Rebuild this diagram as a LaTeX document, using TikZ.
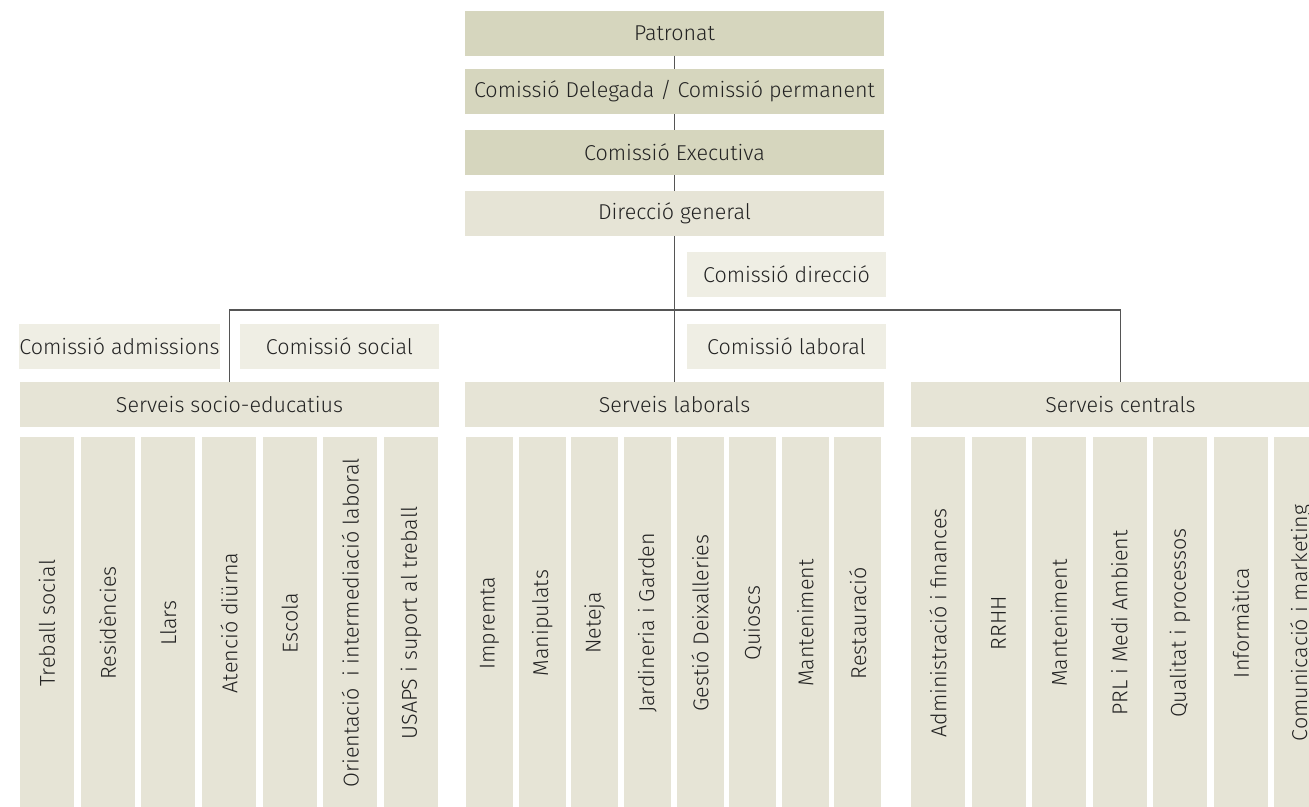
\documentclass[tikz,border=0pt]{standalone}
\usepackage{fontspec}
\IfFontExistsTF{Fira Sans Light}{\setmainfont{Fira Sans Light}}{\setmainfont{Fira Sans}}
\definecolor{boxdark}{RGB}{214,214,190}
\definecolor{boxmid}{RGB}{230,228,214}
\definecolor{boxlight}{RGB}{239,238,228}
\definecolor{linegray}{RGB}{85,85,85}
\definecolor{textgray}{RGB}{35,35,35}

\begin{document}
\begin{tikzpicture}[x=1pt,y=-1pt]
  \tikzstyle{every node}+=[inner sep=0pt, text=textgray, font=\fontsize{21.5}{24}\selectfont]
  \tikzstyle{headbox}=[fill=boxdark, minimum width=419, minimum height=45]
  \tikzstyle{unitbox}=[fill=boxmid, minimum width=419, minimum height=45]
  \tikzstyle{commbox}=[fill=boxlight, minimum width=199, minimum height=45]
  \tikzstyle{deptbox}=[fill=boxmid, rotate=90, minimum width=372, minimum height=54]
  \tikzstyle{link}=[draw=linegray, line width=1.3]
  \useasboundingbox (0,0) rectangle (1309,806);
  \clip (0,0) rectangle (1309,806);

  % governing bodies
  \node [headbox] (pat) at (674.5,33) {Patronat};
  \node [headbox] (del) at (674.5,91.5) {Comissió Delegada / Comissió permanent};
  \node [headbox] (exe) at (674.5,152.5) {Comissió Executiva};
  \node [unitbox] (dg) at (674.5,213.5) {Direcció general};

  % commissions
  \node [commbox] (cdir) at (786.5,274.5) {Comissió direcció};
  \node [commbox] (cadm) at (119.5,346.5) {Comissió admissions};
  \node [commbox] (csoc) at (339.5,346.5) {Comissió social};
  \node [commbox] (clab) at (786.5,346.5) {Comissió laboral};

  % services
  \node [unitbox] (sse) at (229.5,404.5) {Serveis socio-educatius};
  \node [unitbox] (slab) at (674.5,404.5) {Serveis laborals};
  \node [unitbox] (scen) at (1120.5,404.5) {Serveis centrals};

  % links
  \draw [link] (pat) -- (del);
  \draw [link] (del) -- (exe);
  \draw [link] (exe) -- (dg);
  \draw [link] (dg) -- (slab);
  \coordinate (bus) at (674.5,310);
  \draw [link] (sse) |- (bus) -| (scen);

  % departments
  \foreach \name [count=\i from 0] in {Treball social, Residències, Llars,
      Atenció diürna, Escola, Orientació\ \ i intermediació laboral,
      USAPS i suport al treball}
    \node [deptbox] (sse-\i) at (47+60.67*\i,623) {\name};
  \foreach \name [count=\i from 0] in {Impremta, Manipulats, Neteja,
      Jardineria i Garden, Gestió Deixalleries, Quioscs, Manteniment,
      Restauració}
    \node [deptbox, minimum height=47] (slab-\i) at (489.5+52.63*\i,623) {\name};
  \foreach \name [count=\i from 0] in {Administració i finances, RRHH,
      Manteniment, PRL i Medi Ambient, Qualitat i processos, Informàtica,
      Comunicació i marketing}
    \node [deptbox] (scen-\i) at (938+60.5*\i,623) {\name};
\end{tikzpicture}
\end{document}
